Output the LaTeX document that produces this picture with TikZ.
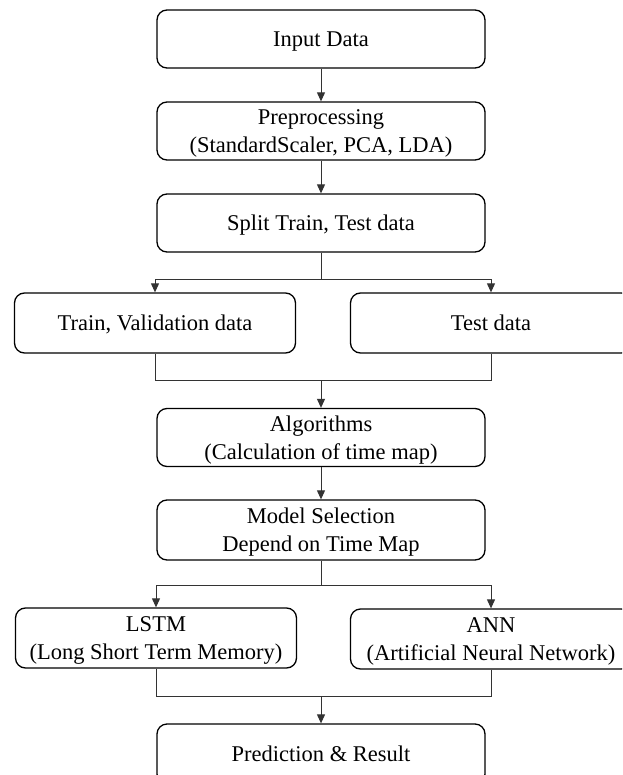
\documentclass[tikz,border=0pt]{standalone}
\usepackage{fontspec}
\setmainfont{Liberation Serif}
\usetikzlibrary{arrows.meta}

\tikzset{
  stepbox/.style={draw=black, line width=1.3pt, rounded corners=10pt,
    minimum height=58pt, align=center, inner sep=2pt, text depth=0pt,
    font=\fontsize{22.5}{28}\selectfont},
  wide/.style={stepbox, minimum width=328pt},
  half/.style={stepbox, minimum width=281pt},
  link/.style={draw=black!80, line width=1pt},
  flow/.style={link, -{Triangle[length=9pt,width=8pt]}}
}

\begin{document}
\begin{tikzpicture}[x=1pt, y=-1pt]
  \clip (0,0) rectangle (622,775);
  \fill[white] (0,0) rectangle (622,775);

  % main column
  \node[wide] (in)    at (321,39)  {Input Data};
  \node[wide] (pre)   at (321,131) {Preprocessing\\(StandardScaler, PCA, LDA)};
  \node[wide] (split) at (321,223) {Split Train, Test data};

  % data split
  \node[half, minimum height=60pt] (train) at (155,323) {Train, Validation data};
  \node[half, minimum height=60pt] (test)  at (491,323) {Test data};

  \node[wide] (alg)   at (321,437.5) {Algorithms\\(Calculation of time map)};
  \node[wide, minimum height=60pt] (model) at (321,530) {Model Selection\\Depend on Time Map};

  % models
  \node[half, minimum height=60pt] (lstm) at (156,638) {LSTM\\(Long Short Term Memory)};
  \node[half, minimum height=60pt] (ann)  at (491,639) {ANN\\(Artificial Neural Network)};

  \node[wide, minimum height=60pt] (pred) at (321,754) {Prediction \& Result};

  % junction rows
  \coordinate (j1) at (321,279);
  \coordinate (j2) at (321,380);
  \coordinate (j3) at (321,585);
  \coordinate (j4) at (321,696);

  % connectors
  \draw[flow] (in) -- (pre);
  \draw[flow] (pre) -- (split);

  \draw[link] (split) -- (j1);
  \draw[flow] (j1) -| (train.north);
  \draw[flow] (j1) -| (test.north);

  \draw[link] (train.south) |- (j2);
  \draw[link] (test.south) |- (j2);
  \draw[flow] (j2) -- (alg);

  \draw[flow] (alg) -- (model);

  \draw[link] (model) -- (j3);
  \draw[flow] (j3) -| (lstm.north);
  \draw[flow] (j3) -| (ann.north);

  \draw[link] (lstm.south) |- (j4);
  \draw[link] (ann.south) |- (j4);
  \draw[flow] (j4) -- (pred);
\end{tikzpicture}
\end{document}
